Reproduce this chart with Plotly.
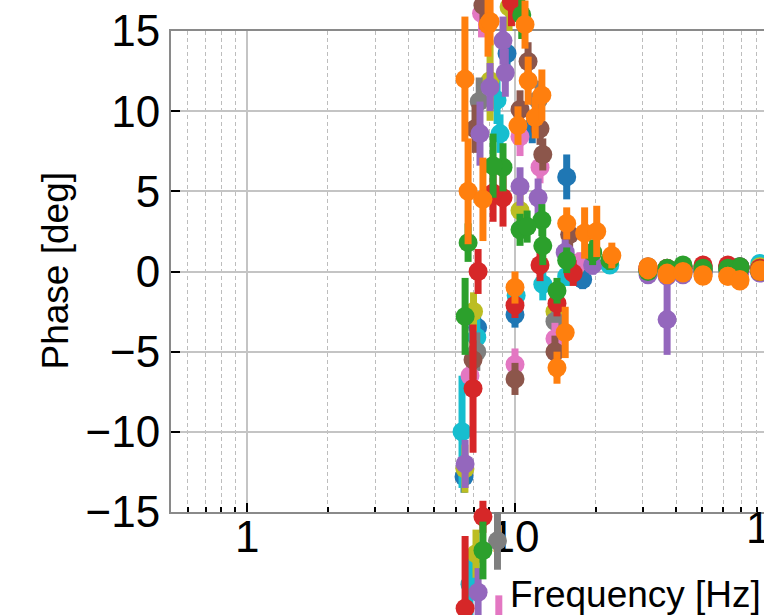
import plotly.graph_objects as go

# ---------------- data (frequency [Hz], phase [deg], error [deg]) ----------------
R_F = [31.4, 37.0, 42.4, 50.4, 62.4, 69.2, 82.1]  # common high-frequency points

blue_f = [6.45, 7.25, 9.34, 10.0, 11.6, 15.6, 17.9] + R_F
blue_p = [-12.8, -3.5, 13.6, -2.7, 9.0, 5.9, -0.5, 0.1, -0.2, 0.2, 0.0, 0.1, 0.3, 0.2]
blue_e = [1.0, 1.2, 1.0, 0.8, 1.0, 1.4, 0.6, 0.3, 0.3, 0.3, 0.3, 0.3, 0.3, 0.3]

cyan_f = [6.34, 6.79, 7.2, 8.57, 8.79, 10.1, 12.7, 15.6, 22.6] + R_F
cyan_p = [-10.0, -19.5, -4.1, 10.7, 8.6, -1.5, -0.8, -0.3, 0.4, 0.0, -0.1, 0.1, 0.2, 0.2, 0.3, 0.5]
cyan_e = [3.5, 2.2, 1.5, 1.5, 1.2, 0.8, 1.0, 0.6, 0.4, 0.3, 0.3, 0.3, 0.3, 0.3, 0.3, 0.3]

olive_f = [6.5, 7.0, 7.15, 8.07, 9.5, 10.44, 14.1, 16.8] + R_F
olive_p = [-12.3, -2.5, -17.6, 11.9, 16.5, 3.8, -2.5, 0.3, 0.1, 0.1, -0.1, 0.2, 0.1, 0.2, 0.3]
olive_e = [1.5, 1.2, 1.5, 2.5, 1.5, 1.0, 0.8, 0.6, 0.3, 0.3, 0.3, 0.3, 0.3, 0.3, 0.3]

gray_f = [7.2, 7.35, 8.6, 12.2, 14.1, 17.0] + R_F
gray_p = [-5.0, 10.6, -16.8, 10.7, -3.1, 0.5, 0.0, 0.2, 0.0, 0.1, 0.2, 0.1, 0.2]
gray_e = [1.2, 1.5, 1.8, 1.2, 0.8, 0.6, 0.3, 0.3, 0.3, 0.3, 0.3, 0.3, 0.3]

pink_f = [6.79, 7.5, 8.7, 10.0, 10.44, 12.4, 14.1, 17.5] + R_F
pink_p = [-6.5, 16.1, -22.0, -5.8, 8.4, 6.5, -4.2, 0.6, 0.2, 0.0, 0.1, 0.3, 0.2, 0.0, 0.1]
pink_e = [1.0, 1.5, 1.8, 1.0, 1.2, 1.0, 1.0, 0.6, 0.3, 0.3, 0.3, 0.3, 0.3, 0.3, 0.3]

brown_f = [6.97, 7.09, 7.59, 10.0, 10.44, 11.19, 12.4, 12.7, 14.1, 16.0] + R_F
brown_p = [-5.5, 8.9, 16.6, -6.7, 10.1, 13.1, 8.9, 7.3, -5.0, 2.3, 0.3, 0.1, 0.2, 0.0, 0.3, 0.2, 0.1]
brown_e = [1.2, 1.5, 1.5, 1.0, 1.2, 1.2, 1.0, 1.0, 1.0, 0.8, 0.3, 0.3, 0.3, 0.3, 0.3, 0.3, 0.3]

purple2_f = [7.28, 8.07, 9.2, 12.2, 19.5] + R_F
purple2_p = [-20.0, 11.5, 12.4, 4.6, 0.4, 0.0, -0.3, -0.2, 0.1, 0.0, 0.2, 0.0]
purple2_e = [1.5, 1.5, 1.5, 1.2, 0.6, 0.3, 0.3, 0.3, 0.3, 0.3, 0.3, 0.3]

purple1_f = [6.51, 7.4, 9.02, 10.44, 15.4] + R_F
purple1_p = [-12.0, 8.6, 14.4, 5.3, 1.2, -0.2, -3.0, 0.0, -0.1, 0.2, 0.0, -0.1]
purple1_e = [1.5, 2.0, 1.5, 1.2, 0.8, 0.3, 2.2, 0.3, 0.3, 0.3, 0.3, 0.3]

red2_f = [6.97, 7.59, 9.02] + R_F
red2_p = [-7.3, -15.3, 4.6, 0.2, 0.1, 0.2, 0.3, 0.4, 0.3, 0.0]
red2_e = [4.0, 1.0, 1.8, 0.3, 0.3, 0.3, 0.3, 0.3, 0.3, 0.3]

red1_f = [6.51, 7.28, 8.28, 9.7, 10.0, 12.4, 14.35, 16.5] + R_F
red1_p = [-21.0, 0.0, 4.9, 16.8, -2.1, 0.4, -2.0, -0.1, 0.1, 0.2, 0.3, 0.4, 0.3, 0.2, 0.2]
red1_e = [4.5, 1.4, 1.8, 1.5, 0.8, 1.0, 0.8, 0.8, 0.3, 0.3, 0.3, 0.3, 0.3, 0.3, 0.3]

green2_f = [6.68, 7.59, 9.02, 10.44, 12.6, 22.6] + R_F
green2_p = [1.8, -17.4, 6.5, 2.6, 3.2, 0.7, 0.0, 0.1, 0.4, 0.2, 0.1, 0.3, 0.1]
green2_e = [1.2, 1.8, 1.5, 1.0, 1.0, 0.6, 0.3, 0.3, 0.3, 0.3, 0.3, 0.3, 0.3]

green1_f = [6.51, 8.28, 10.6, 11.1, 12.7, 14.35, 15.6, 19.5] + R_F
green1_p = [-2.8, 6.6, 16.0, 2.8, 1.6, -1.2, 0.7, 1.2, 0.1, 0.2, 0.3, 0.1, 0.2, 0.2, 0.0]
green1_e = [2.4, 2.0, 1.5, 1.0, 1.2, 0.8, 0.8, 0.8, 0.3, 0.3, 0.3, 0.3, 0.3, 0.3, 0.3]

orange2_f = [6.68, 7.93, 10.26, 11.2, 11.9, 15.4, 18.2] + R_F
orange2_p = [5.0, 15.4, 9.1, 11.9, 9.6, -3.8, 2.4, 0.1, -0.2, 0.0, -0.2, -0.3, -0.5, 0.0]
orange2_e = [3.3, 2.0, 1.2, 1.5, 1.3, 1.6, 1.6, 0.3, 0.3, 0.3, 0.3, 0.3, 0.3, 0.3]

orange1_f = [6.5, 7.59, 8.07, 10.0, 10.9, 12.6, 14.35, 15.6, 20.2, 23.0] + R_F
orange1_p = [12.0, 4.5, 15.6, -1.0, 15.4, 11.0, -6.0, 3.0, 2.5, 1.0, 0.3, -0.1, -0.1, -0.3, -0.3, -0.6, 0.1]
orange1_e = [3.9, 2.6, 1.5, 1.0, 1.5, 1.6, 1.0, 1.0, 1.6, 0.8, 0.3, 0.3, 0.3, 0.3, 0.3, 0.3, 0.3]

y_ticks = [-15, -10, -5, 0, 5, 10, 15]

SERIES = [
    (blue_f, blue_p, blue_e, "#1f77b4"),
    (cyan_f, cyan_p, cyan_e, "#17becf"),
    (olive_f, olive_p, olive_e, "#bcbd22"),
    (gray_f, gray_p, gray_e, "#7f7f7f"),
    (pink_f, pink_p, pink_e, "#e377c2"),
    (brown_f, brown_p, brown_e, "#8c564b"),
    (purple2_f, purple2_p, purple2_e, "#9467bd"),
    (purple1_f, purple1_p, purple1_e, "#9467bd"),
    (red2_f, red2_p, red2_e, "#d62728"),
    (red1_f, red1_p, red1_e, "#d62728"),
    (green2_f, green2_p, green2_e, "#2ca02c"),
    (green1_f, green1_p, green1_e, "#2ca02c"),
    (orange2_f, orange2_p, orange2_e, "#ff7f0e"),
    (orange1_f, orange1_p, orange1_e, "#ff7f0e"),
]

# ---------------- geometry ----------------
W, H = 764, 615
PLOT_L, PLOT_T, PLOT_B = 171, 31, 512
X1_PX, X10_PX = 247.3, 515.0
YMIN, YMAX = -15, 15
DEC = X10_PX - X1_PX
YS = (PLOT_B - PLOT_T) / (YMAX - YMIN)

xr_main = [(PLOT_L - X1_PX) / DEC, (W - X1_PX) / DEC]
xr_full = [(0 - X1_PX) / DEC, (W - X1_PX) / DEC]
yr_full = [YMIN - (H - PLOT_B) / YS, YMAX + PLOT_T / YS]

FONT = "Liberation Sans, Arial, Helvetica, sans-serif"
XLAB_STANDOFF = -15

fig = go.Figure()
# empty trace so the framed subplot is drawn
fig.add_trace(go.Scatter(x=[], y=[], xaxis="x", yaxis="y", showlegend=False))
for f, p, e, c in SERIES:
    fig.add_trace(go.Scatter(
        x=f, y=p, mode="markers", xaxis="x2", yaxis="y2",
        marker=dict(size=19, color=c, line=dict(width=0)),
        error_y=dict(type="data", array=e, visible=True, thickness=7, width=0, color=c),
        cliponaxis=False, showlegend=False, hoverinfo="skip"))

grid_major = "#c4c4c4"
fig.update_layout(
    width=W, height=H,
    margin=dict(l=0, r=0, t=0, b=0, autoexpand=False),
    paper_bgcolor="white", plot_bgcolor="rgba(0,0,0,0)",
    font=dict(family=FONT, color="black"),
    xaxis=dict(
        type="log", range=xr_main, domain=[PLOT_L / W, 1], anchor="y", automargin=False,
        dtick=1, tickfont=dict(size=44, family=FONT, color="black"),
        ticklabelstandoff=XLAB_STANDOFF,
        ticks="inside", ticklen=9, tickwidth=2, tickcolor="black",
        showline=True, linecolor="#8a8a8a", linewidth=2, mirror=True,
        showgrid=True, gridcolor=grid_major, gridwidth=1.5, zeroline=False,
        minor=dict(ticks="inside", ticklen=5, tickwidth=1.5, tickcolor="black",
                   dtick="D1", showgrid=True, gridcolor="#bdbdbd", gridwidth=1.2,
                   griddash="4px,3px"),
    ),
    yaxis=dict(
        range=[YMIN, YMAX], domain=[1 - PLOT_B / H, 1 - PLOT_T / H], anchor="x", automargin=False,
        tickvals=y_ticks, tickfont=dict(size=44, family=FONT, color="black"),
        ticks="inside", ticklen=9, tickwidth=2, tickcolor="black",
        showline=True, linecolor="#8a8a8a", linewidth=2,
        showgrid=True, gridcolor=grid_major, gridwidth=1.5, zeroline=False,
    ),
    xaxis2=dict(type="log", range=xr_full, domain=[0, 1], anchor="y2", visible=False, automargin=False),
    yaxis2=dict(range=yr_full, domain=[0, 1], anchor="x2", visible=False, automargin=False),
)

# tick label "100" lies beyond the visible right edge (partially shown)
x100_paper = (2 - xr_full[0]) / (xr_full[1] - xr_full[0])
fig.add_annotation(text="100", xref="paper", yref="paper", x=x100_paper, y=1 - PLOT_B / H,
                   xanchor="center", yanchor="top", yshift=-4 - XLAB_STANDOFF, showarrow=False,
                   font=dict(size=44, family=FONT, color="black"))
fig.add_annotation(text="Frequency [Hz]", xref="paper", yref="paper", x=635.5 / W, y=1 - 594 / H,
                   xanchor="center", yanchor="middle", showarrow=False,
                   font=dict(size=37, family=FONT, color="black"))
fig.add_annotation(text="Phase [deg]", xref="paper", yref="paper", x=55 / W,
                   y=1 - (PLOT_T + PLOT_B) / 2 / H, textangle=-90,
                   xanchor="center", yanchor="middle", showarrow=False,
                   font=dict(size=37, family=FONT, color="black"))

fig.write_html("out.html")
